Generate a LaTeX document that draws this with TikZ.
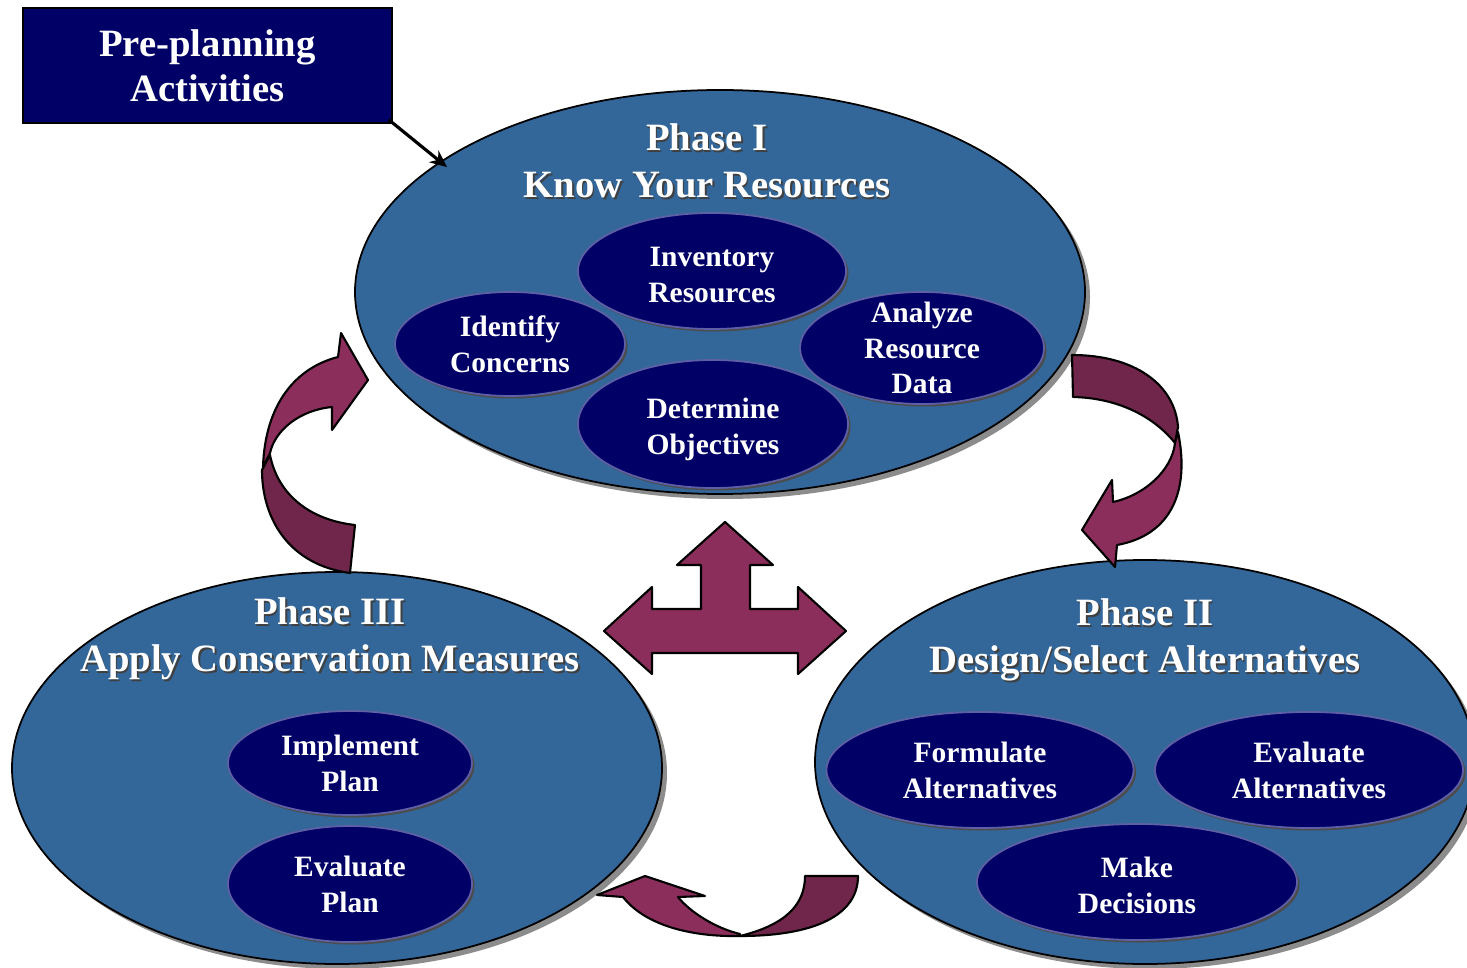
\documentclass[tikz,border=0pt]{standalone}
\usepackage{fontspec}
\setmainfont{Liberation Serif}
\usetikzlibrary{positioning,arrows.meta,shapes.geometric,shadows}
\definecolor{phaseblue}{RGB}{51,102,153}
\definecolor{navy}{RGB}{0,0,102}
\definecolor{rimblue}{RGB}{95,95,165}
\definecolor{plum}{RGB}{140,46,92}
\definecolor{plumdark}{RGB}{112,38,74}

\begin{document}
\begin{tikzpicture}[
    phase/.style={ellipse, draw=black, line width=0.5pt, fill=phaseblue, inner sep=0pt,
      general shadow={shadow xshift=0.05cm, shadow yshift=-0.05cm, fill=black!45}},
    task/.style={ellipse, draw=rimblue, line width=0.5pt, fill=navy, inner sep=0pt,
      general shadow={shadow xshift=0.025cm, shadow yshift=-0.025cm, fill=black!70}},
    tasktext/.style={text=white, align=center, inner sep=0pt,
      font=\bfseries\fontsize{8.4}{10.2}\selectfont},
    title/.style={text=white, align=center, inner sep=0pt,
      font=\bfseries\fontsize{11}{13.3}\selectfont},
    titleshade/.style={title, text=black!75},
    ribbon/.style={fill=plum, draw=black, line width=0.6pt, line join=round},
    ribbonback/.style={ribbon, fill=plumdark}]
  \useasboundingbox (0,0) rectangle (14.67,-9.68);

  % the three phases
  \node[phase, minimum width=7.30cm, minimum height=4.04cm] (phaseI) at (7.20,-2.92) {};
  \node[phase, minimum width=6.50cm, minimum height=3.92cm] (phaseIII) at (3.37,-7.68) {};
  \node[phase, minimum width=6.60cm, minimum height=4.04cm] (phaseII) at (11.45,-7.62) {};

  \node[titleshade] (phaseIshade) at (7.085,-1.625) {Phase I\\Know Your Resources};
  \node[title] (phaseItitle) at (7.07,-1.61) {Phase I\\Know Your Resources};
  \node[titleshade] (phaseIIIshade) at (3.315,-6.405) {Phase III\\Apply Conservation Measures};
  \node[title] (phaseIIItitle) at (3.30,-6.39) {Phase III\\Apply Conservation Measures};
  \node[titleshade] (phaseIIshade) at (11.465,-6.415) {Phase II\\Design/Select Alternatives};
  \node[title] (phaseIItitle) at (11.45,-6.40) {Phase II\\Design/Select Alternatives};

  % steps inside phase I
  \node[task, minimum width=2.68cm, minimum height=1.16cm,
    label={[tasktext, yshift=-0.04cm]center:Inventory\\Resources}] (inventory) at (7.12,-2.71) {};
  \node[task, minimum width=2.30cm, minimum height=1.04cm,
    label={[tasktext]center:Identify\\Concerns}] (concerns) at (5.10,-3.44) {};
  \node[task, minimum width=2.44cm, minimum height=1.12cm,
    label={[tasktext]center:Analyze\\Resource\\Data}] (analyze) at (9.22,-3.48) {};
  \node[task, minimum width=2.70cm, minimum height=1.28cm,
    label={[tasktext, yshift=-0.055cm]center:Determine\\Objectives}] (objectives) at (7.13,-4.24) {};

  % steps inside phase III
  \node[task, minimum width=2.44cm, minimum height=1.04cm,
    label={[tasktext]center:Implement\\Plan}] (implement) at (3.50,-7.63) {};
  \node[task, minimum width=2.44cm, minimum height=1.16cm,
    label={[tasktext]center:Evaluate\\Plan}] (evalplan) at (3.50,-8.84) {};

  % steps inside phase II
  \node[task, minimum width=3.07cm, minimum height=1.16cm,
    label={[tasktext]center:Formulate\\Alternatives}] (formulate) at (9.80,-7.70) {};
  \node[task, minimum width=3.08cm, minimum height=1.16cm,
    label={[tasktext]center:Evaluate\\Alternatives}] (evalalt) at (13.09,-7.70) {};
  \node[task, minimum width=3.20cm, minimum height=1.16cm,
    label={[tasktext, yshift=-0.03cm]center:Make\\Decisions}] (decisions) at (11.37,-8.82) {};

  % pre-planning box
  \node[draw=black, fill=navy, minimum width=3.69cm, minimum height=1.15cm,
    text=white, align=center, inner sep=0pt,
    font=\bfseries\fontsize{11}{12.8}\selectfont] (pre) at (2.075,-0.655) {Pre-planning\\Activities};
  \draw[line width=0.9pt, shorten >=-0.09cm, -{Stealth[length=0.17cm, width=0.15cm]}]
    ([shift={(-0.04,0.04)}]pre.south east) -- (phaseI.155);

  % cross arrow between the phases
  \filldraw[ribbon] (7.25,-5.22) -- (7.73,-5.65) -- (7.50,-5.65) -- (7.50,-6.09)
    -- (7.98,-6.09) -- (7.98,-5.87) -- (8.46,-6.31) -- (7.98,-6.74) -- (7.98,-6.53)
    -- (6.52,-6.53) -- (6.52,-6.74) -- (6.04,-6.31) -- (6.52,-5.87) -- (6.52,-6.09)
    -- (7.01,-6.09) -- (7.01,-5.65) -- (6.77,-5.65) -- cycle;

  % phase III back to phase I
  \filldraw[ribbonback] (3.50,-5.73) .. controls (2.90,-5.65) and (2.62,-5.20) .. (2.62,-4.70)
    -- (2.70,-4.55) .. controls (2.78,-4.95) and (3.10,-5.20) .. (3.55,-5.25) -- cycle;
  \filldraw[ribbon] (2.63,-4.67) .. controls (2.65,-4.05) and (2.95,-3.68) .. (3.38,-3.57)
    -- (3.41,-3.33) -- (3.68,-3.80) -- (3.32,-4.30) -- (3.32,-4.07)
    .. controls (3.00,-4.10) and (2.75,-4.30) .. (2.70,-4.53) -- cycle;

  % phase I to phase II
  \filldraw[ribbonback] (10.72,-3.55) .. controls (11.35,-3.55) and (11.75,-3.85) .. (11.78,-4.27)
    -- (11.75,-4.43) .. controls (11.55,-4.18) and (11.20,-3.98) .. (10.73,-3.97) -- cycle;
  \filldraw[ribbon] (11.78,-4.32) .. controls (11.90,-4.90) and (11.72,-5.35) .. (11.17,-5.45)
    -- (11.15,-5.67) -- (10.82,-5.30) -- (11.12,-4.80) -- (11.13,-5.02)
    .. controls (11.45,-4.95) and (11.72,-4.70) .. (11.75,-4.43) -- cycle;

  % phase II to phase III
  \filldraw[ribbonback] (8.05,-8.76) -- (8.58,-8.76) .. controls (8.58,-9.15) and (8.15,-9.36) .. (7.40,-9.36)
    .. controls (7.85,-9.25) and (8.05,-9.05) .. (8.05,-8.76) -- cycle;
  \filldraw[ribbon] (7.40,-9.36) .. controls (6.90,-9.37) and (6.45,-9.25) .. (6.23,-8.97)
    -- (5.97,-8.95) -- (6.45,-8.76) -- (7.05,-8.96) -- (6.78,-8.97)
    .. controls (6.90,-9.12) and (7.15,-9.28) .. (7.40,-9.34) -- cycle;
\end{tikzpicture}
\end{document}
